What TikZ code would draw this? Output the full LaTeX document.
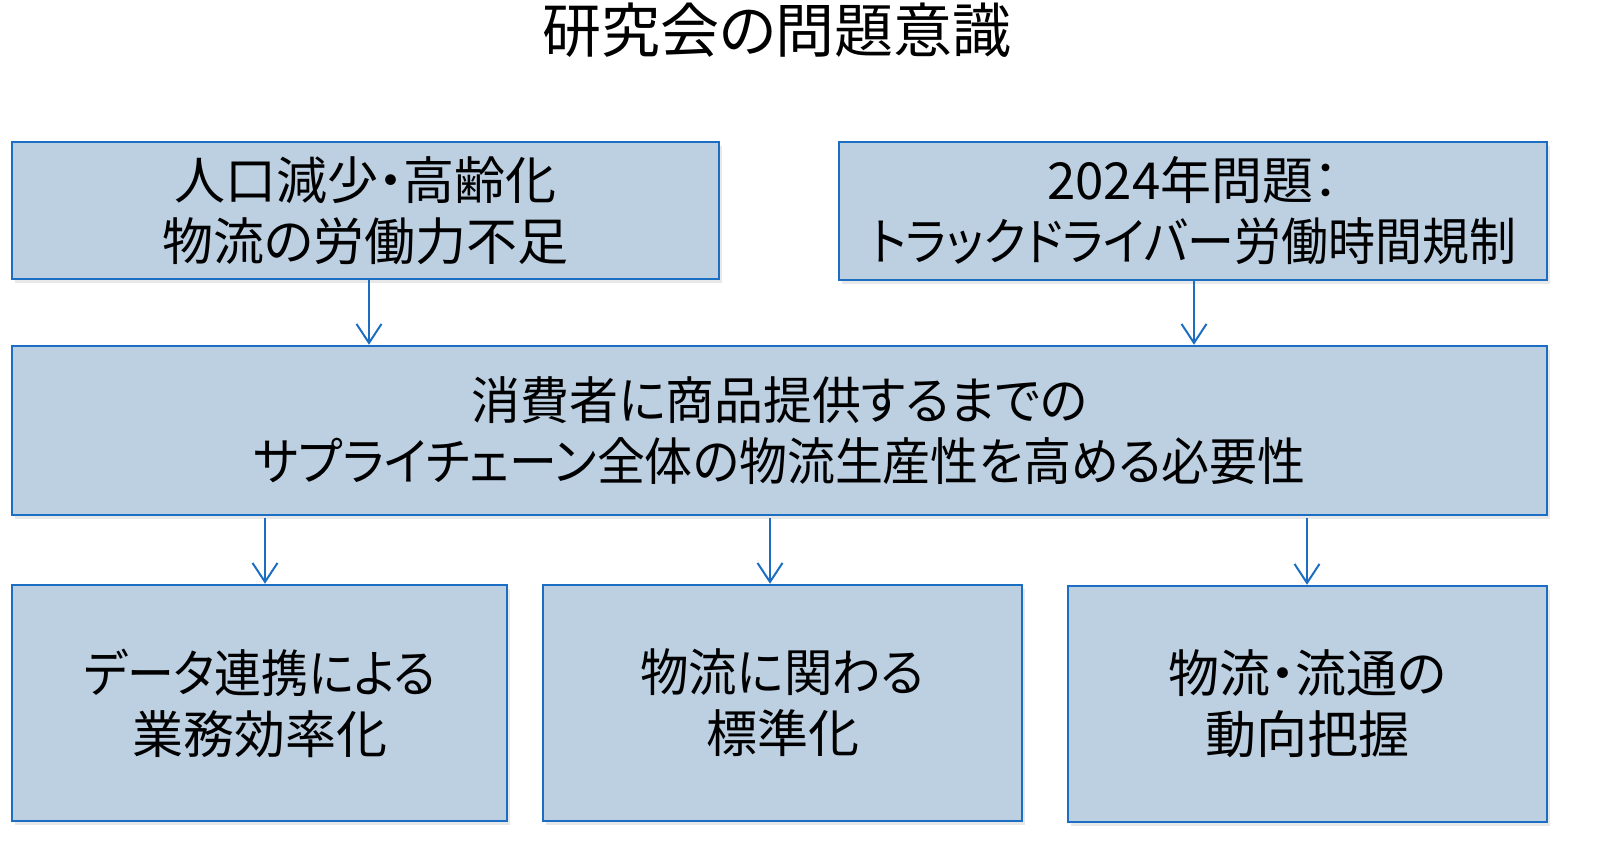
\documentclass[tikz,border=0pt]{standalone}
\usepackage{fontspec}
\newfontfamily\jp[RawFeature=+palt]{Noto Sans CJK JP}
\usetikzlibrary{arrows.meta,shadows}
\definecolor{boxfill}{RGB}{188,208,226}
\definecolor{boxline}{RGB}{28,110,195}
\newcommand{\narrow}[2]{\scalebox{#1}[1]{#2}}
\begin{document}
\begin{tikzpicture}[x=1pt,y=-1pt,
  box/.style={draw=boxline, line width=2.5pt, fill=boxfill, inner sep=0pt,
    align=center, font=\jp\fontsize{51}{61}\selectfont,
    drop shadow={opacity=0.18, shadow xshift=3pt, shadow yshift=-4pt}},
  arr/.style={draw=boxline, line width=2pt, -{Straight Barb[length=19pt,width=25pt,line width=2pt]}}]
\useasboundingbox (0,0) rectangle (1600,860);
\node[font=\jp\fontsize{59}{70}\selectfont] (title) at (777,30) {研究会の問題意識};
\node[box, minimum width=707pt, minimum height=137pt] (tl) at (365.5,210.5) {人口減少・高齢化\\物流の労働力不足};
\node[box, minimum width=708pt, minimum height=138pt] (tr) at (1193,211) {2024年問題：\\\narrow{0.92}{トラックドライバー労働時間規制}};
\node[box, minimum width=1535pt, minimum height=169pt] (mid) at (779.5,430.5) {\narrow{0.96}{消費者に商品提供するまでの}\\\narrow{0.94}{サプライチェーン全体の物流生産性を高める必要性}};
\node[box, minimum width=495pt, minimum height=236pt] (bl) at (259.5,703) {\narrow{0.92}{データ連携による}\\業務効率化};
\node[box, minimum width=479pt, minimum height=236pt] (bm) at (782.5,703) {\narrow{0.95}{物流に関わる}\\標準化};
\node[box, minimum width=479pt, minimum height=236pt] (br) at (1307.5,704) {物流・流通の\\動向把握};
\coordinate (a1) at (369,280);
\coordinate (a2) at (1194,281);
\coordinate (a3) at (265,518);
\coordinate (a4) at (770,518);
\coordinate (a5) at (1307,518);
\draw[arr] (a1) -- (a1 |- mid.north);
\draw[arr] (a2) -- (a2 |- mid.north);
\draw[arr] (a3) -- (a3 |- bl.north);
\draw[arr] (a4) -- (a4 |- bm.north);
\draw[arr] (a5) -- (a5 |- br.north);
\end{tikzpicture}
\end{document}
